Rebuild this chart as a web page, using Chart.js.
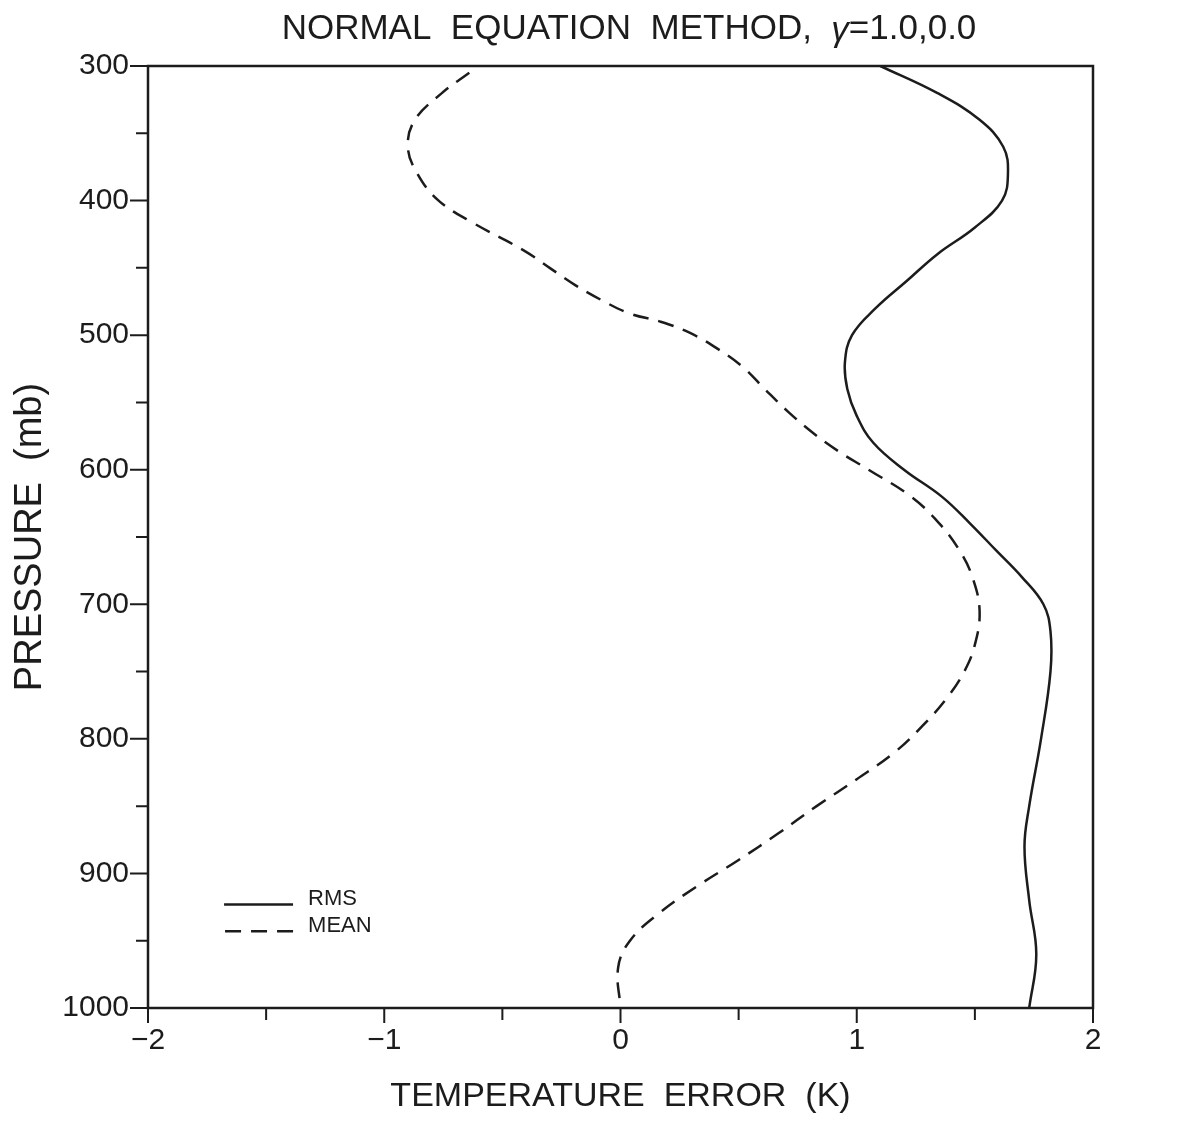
<!DOCTYPE html>
<html lang="en">
  <head>
    <meta charset="UTF-8" />
    <title>Normal Equation Method</title>
    <script src="https://cdn.jsdelivr.net/npm/chart.js@4.4.0/dist/chart.umd.min.js"></script>
    <style>
      body { margin: 0; background: #fff; }
    </style>
  </head>
  <body>
    <canvas id="chart" width="1190" height="1125"></canvas>
    <script>
      // values (pressure in mb, error in K)
      const rmsPressure = [300, 320, 340, 360, 380, 400, 420, 440, 460, 480, 500, 520, 540, 560, 580, 600, 620, 640, 660, 680, 700, 720, 750, 800, 850, 880, 920, 960, 1000]
      const rmsValue = [1.10, 1.34, 1.52, 1.62, 1.64, 1.615, 1.50, 1.34, 1.21, 1.08, 0.98, 0.95, 0.96, 1.00, 1.07, 1.20, 1.36, 1.48, 1.59, 1.70, 1.79, 1.82, 1.82, 1.78, 1.73, 1.71, 1.73, 1.76, 1.73]
      const meanPressure = [305, 320, 340, 360, 380, 400, 416, 437, 450, 463, 474, 484, 490, 498, 510, 524, 540, 557, 572, 586, 600, 620, 640, 660, 680, 705, 730, 750, 770, 790, 810, 830, 850, 870, 890, 910, 930, 950, 970, 1000]
      const meanValue = [-0.64, -0.755, -0.87, -0.90, -0.86, -0.77, -0.63, -0.41, -0.30, -0.19, -0.08, 0.04, 0.17, 0.29, 0.41, 0.52, 0.61, 0.71, 0.81, 0.92, 1.05, 1.23, 1.35, 1.435, 1.49, 1.52, 1.50, 1.455, 1.38, 1.28, 1.16, 1.00, 0.83, 0.67, 0.50, 0.32, 0.16, 0.04, -0.01, 0.0]

      const xTicks = [-2, -1.5, -1, -0.5, 0, 0.5, 1, 1.5, 2]
      const yTicks = [300, 350, 400, 450, 500, 550, 600, 650, 700, 750, 800, 850, 900, 950, 1000]
      const xLabels = { '-2': '\u22122', '-1': '\u22121', '0': '0', '1': '1', '2': '2' }

      const ink = '#1c1c1c'
      const font = "'Liberation Sans', Arial, sans-serif"

      const toPoints = (ps, vs) => ps.map((p, i) => ({ x: vs[i], y: p }))

      // frame, tick marks, title and the little legend box
      const decor = {
        id: 'decor',
        afterDraw(chart) {
          const { ctx, chartArea: a, scales } = chart
          const x = scales.x
          const y = scales.y
          ctx.save()
          ctx.strokeStyle = ink
          ctx.lineWidth = 2.5
          ctx.strokeRect(a.left, a.top, a.right - a.left, a.bottom - a.top)

          ctx.lineWidth = 2
          ctx.beginPath()
          xTicks.forEach((v) => {
            const px = x.getPixelForValue(v)
            const len = Number.isInteger(v) ? 15 : 12
            ctx.moveTo(px, a.bottom)
            ctx.lineTo(px, a.bottom + len)
          })
          yTicks.forEach((v) => {
            const py = y.getPixelForValue(v)
            const len = v % 100 === 0 ? 18 : 12
            ctx.moveTo(a.left, py)
            ctx.lineTo(a.left - len, py)
          })
          ctx.stroke()

          ctx.fillStyle = ink
          // main title with italic gamma
          const t1 = 'NORMAL  EQUATION  METHOD,  '
          const t2 = '\u03b3'
          const t3 = '=1.0,0.0'
          ctx.font = `35px ${font}`
          const w1 = ctx.measureText(t1).width
          const w3 = ctx.measureText(t3).width
          ctx.font = `italic 35px ${font}`
          const w2 = ctx.measureText(t2).width
          const tx = 629 - (w1 + w2 + w3) / 2
          ctx.textBaseline = 'middle'
          ctx.textAlign = 'left'
          ctx.font = `35px ${font}`
          ctx.fillText(t1, tx, 29)
          ctx.font = `italic 35px ${font}`
          ctx.fillText(t2, tx + w1, 31)
          ctx.font = `35px ${font}`
          ctx.fillText(t3, tx + w1 + w2, 29)

          // legend
          const ds = chart.data.datasets
          const lx1 = x.getPixelForValue(-1.678)
          const lx2 = x.getPixelForValue(-1.386)
          const rows = [y.getPixelForValue(923), y.getPixelForValue(943)]
          ctx.lineWidth = 2.5
          ds.forEach((d, i) => {
            ctx.setLineDash(d.borderDash || [])
            ctx.beginPath()
            ctx.moveTo(lx2, rows[i])
            ctx.lineTo(lx1, rows[i])
            ctx.stroke()
            ctx.setLineDash([])
            ctx.font = `22px ${font}`
            ctx.textAlign = 'left'
            ctx.fillText(d.label, lx2 + 15, rows[i] - 5)
          })
          ctx.restore()
        },
      }

      const data = {
        datasets: [
          {
            label: 'RMS',
            data: toPoints(rmsPressure, rmsValue),
            showLine: true,
            borderColor: ink,
            borderWidth: 2.5,
            pointRadius: 0,
            tension: 0.4,
          },
          {
            label: 'MEAN',
            data: toPoints(meanPressure, meanValue),
            showLine: true,
            borderColor: ink,
            borderWidth: 2.5,
            borderDash: [16, 10],
            pointRadius: 0,
            tension: 0.4,
          },
        ],
      }

      const config = {
        type: 'scatter',
        data: data,
        options: {
          responsive: false,
          animation: false,
          layout: { padding: { top: 66, right: 97, left: 0, bottom: 0 } },
          plugins: {
            legend: { display: false },
            tooltip: { enabled: false },
          },
          scales: {
            x: {
              type: 'linear',
              min: -2,
              max: 2,
              afterFit: (s) => { s.height = 117 },
              afterBuildTicks: (s) => { s.ticks = xTicks.map((v) => ({ value: v })) },
              grid: { display: false, drawTicks: false },
              border: { display: false },
              ticks: {
                padding: 15,
                color: ink,
                font: { family: font, size: 30 },
                maxRotation: 0,
                autoSkip: false,
                callback: (v) => xLabels[String(v)] || '',
              },
              title: {
                display: true,
                text: 'TEMPERATURE  ERROR  (K)',
                color: ink,
                font: { family: font, size: 34 },
                padding: { top: 0, bottom: 8 },
              },
            },
            y: {
              type: 'linear',
              reverse: true,
              min: 300,
              max: 1000,
              afterFit: (s) => { s.width = 148 },
              afterBuildTicks: (s) => { s.ticks = yTicks.map((v) => ({ value: v })) },
              grid: { display: false, drawTicks: false },
              border: { display: false },
              ticks: {
                padding: 19,
                color: ink,
                font: { family: font, size: 30 },
                autoSkip: false,
                callback: (v) => (v % 100 === 0 ? String(v) : ''),
              },
              title: {
                display: true,
                text: 'PRESSURE  (mb)',
                color: ink,
                font: { family: font, size: 38 },
                padding: { top: 8, bottom: 0 },
              },
            },
          },
        },
        plugins: [decor],
      }

      const chart = new Chart(document.getElementById('chart'), config)
    </script>
  </body>
</html>
